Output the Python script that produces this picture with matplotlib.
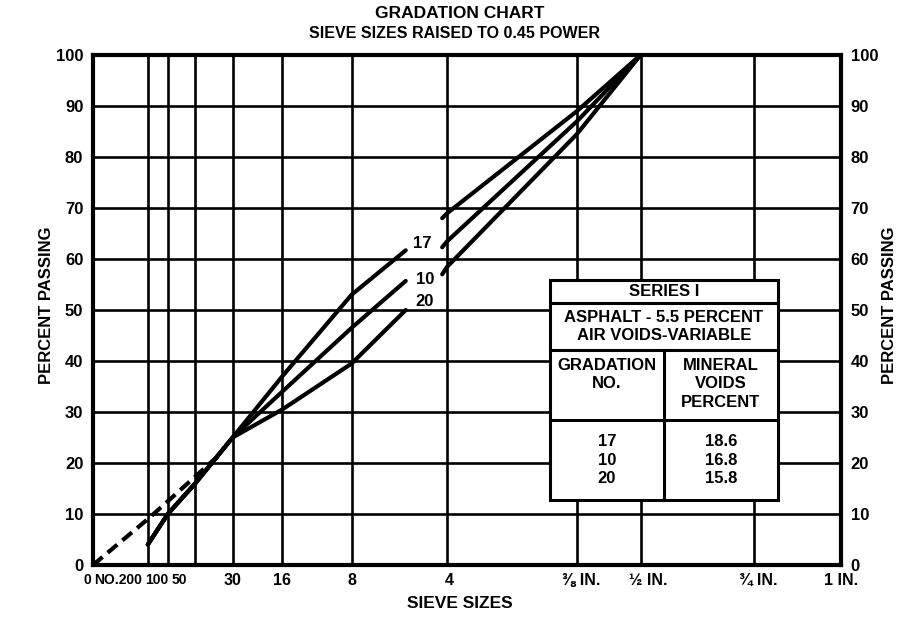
import numpy as np
import matplotlib
matplotlib.use("Agg")
import matplotlib.pyplot as plt
from matplotlib.patches import Rectangle
from matplotlib.lines import Line2D
from matplotlib.transforms import ScaledTranslation

# sieve openings in mm and the gradations (percent passing)
sieve_mm = [0.075, 0.15, 0.3, 0.6, 1.18, 2.36, 4.75, 9.5, 12.5]
pass_17 = [4, 10, 16, 25, 37, 53, 69, 89, 100]
pass_10 = [4, 10, 16, 25, 34, 46.5, 63.5, 87, 100]
pass_20 = [4, 10, 16, 25, 30.5, 39.5, 58.5, 84.5, 100]

# curves are broken around their labels (ends)
gap_mm = [3.6, 4.6]
gap_17 = [61.7, 68]
gap_10 = [55.7, 62.3]
gap_20 = [50, 57]

# dashed extension down to the origin
dash_mm = [0, 0.075, 0.15, 0.5]
dash_pct = [0, 9, 12.5, 22]

xtick_mm = [0, 0.075, 0.15, 0.3, 0.6, 1.18, 2.36, 4.75, 9.5, 12.5, 19.0, 25.0]
xtick_labels = ["0", "NO.200", "100", "50", "30", "16", "8", "4",
                "⅜ IN.", "½ IN.", "¾ IN.", "1 IN."]
xtick_shift = [-6, -30, -11, -16, 0, 0, 0, 2, 4, 8, 4, 0]  # px, crowded labels

curve_names = ["17", "10", "20"]
label_mm = [4.05, 4.11, 4.11]
label_pct = [63.0, 56.0, 51.6]

table_grad = ["17", "10", "20"]
table_voids = ["18.6", "16.8", "15.8"]

plt.rcParams["font.family"] = ["Liberation Sans", "DejaVu Sans"]
plt.rcParams["font.weight"] = "bold"

fig = plt.figure(figsize=(9, 6.21), dpi=100)
ax = fig.add_axes([93 / 900, 1 - 565 / 621, 748 / 900, 510 / 621])

p = 0.45
ax.set_xscale("function", functions=(lambda x: np.power(np.clip(x, 0, None), p),
                                     lambda y: np.power(np.clip(y, 0, None), 1 / p)))
ax.set_xlim(0, 25.0)
ax.set_ylim(0, 100)

# grid
ax.set_xticks(xtick_mm)
ax.set_xticklabels(xtick_labels)
ax.set_yticks(range(0, 101, 10))
ax.grid(True, color="black", lw=1.9)
for s in ax.spines.values():
    s.set_linewidth(3)
ax.tick_params(length=0, colors="black")
ax.tick_params(axis="x", pad=6, labelsize=10)
ax.tick_params(axis="y", pad=7, labelsize=12, labelright=True)
for i, (lab, dx) in enumerate(zip(ax.get_xticklabels(), xtick_shift)):
    lab.set_transform(lab.get_transform() + ScaledTranslation(dx / 100, 0, fig.dpi_scale_trans))
    if i > 3:
        lab.set_fontsize(11.5)

# gradation curves
for vals, gap in [(pass_17, gap_17), (pass_10, gap_10), (pass_20, gap_20)]:
    ax.plot(sieve_mm[:6] + [gap_mm[0]], vals[:6] + [gap[0]], color="black", lw=3,
            solid_capstyle="round")
    ax.plot([gap_mm[1]] + sieve_mm[6:], [gap[1]] + vals[6:], color="black", lw=3,
            solid_capstyle="round")
ax.plot(dash_mm, dash_pct, color="black", lw=3, linestyle=(0, (3, 1.6)))

for name, xm, yp in zip(curve_names, label_mm, label_pct):
    ax.text(xm, yp, name, ha="center", va="center", fontsize=12)

# titles and axis names
fig.text(0.511, 1 - 14 / 621, "GRADATION CHART", ha="center", va="center", fontsize=12.5)
fig.text(0.505, 1 - 34 / 621, "SIEVE SIZES RAISED TO 0.45 POWER", ha="center",
         va="center", fontsize=11.5)
ax.text(0.49, -0.075, "SIEVE SIZES", transform=ax.transAxes, ha="center", va="center",
        fontsize=12.5)
ax.text(-0.0615, 0.51, "PERCENT PASSING", transform=ax.transAxes, rotation=90,
        ha="center", va="center", fontsize=12)
ax.text(1.0655, 0.51, "PERCENT PASSING", transform=ax.transAxes, rotation=90,
        ha="center", va="center", fontsize=12)

# table
x0, xm, x1 = 0.611, 0.763, 0.916
y_top, y_r1, y_r2, y_r3, y_bot = 0.559, 0.514, 0.4216, 0.284, 0.1275
ax.add_patch(Rectangle((x0, y_bot), x1 - x0, y_top - y_bot, transform=ax.transAxes,
                       facecolor="white", edgecolor="black", lw=2.2, zorder=5))
for yy in [y_r1, y_r2, y_r3]:
    ax.add_line(Line2D([x0, x1], [yy, yy], transform=ax.transAxes, color="black",
                       lw=2.2, zorder=6))
ax.add_line(Line2D([xm, xm], [y_bot, y_r2], transform=ax.transAxes, color="black",
                   lw=2.2, zorder=6))

tk = dict(transform=ax.transAxes, ha="center", fontsize=12, zorder=7,
          linespacing=1.3)
ax.text(xm, (y_top + y_r1) / 2, "SERIES I", va="center", **tk)
ax.text(xm, (y_r1 + y_r2) / 2, "ASPHALT - 5.5 PERCENT\nAIR VOIDS-VARIABLE",
        va="center", **tk)
ax.text((x0 + xm) / 2, y_r2 - 0.015, "GRADATION\nNO.", va="top", **tk)
ax.text((xm + x1) / 2, y_r2 - 0.015, "MINERAL\nVOIDS\nPERCENT", va="top", **tk)
ax.text((x0 + xm) / 2, (y_r3 + y_bot) / 2, "\n".join(table_grad), va="center", **tk)
ax.text((xm + x1) / 2, (y_r3 + y_bot) / 2, "\n".join(table_voids), va="center", **tk)

fig.savefig("out.png", dpi=100)
